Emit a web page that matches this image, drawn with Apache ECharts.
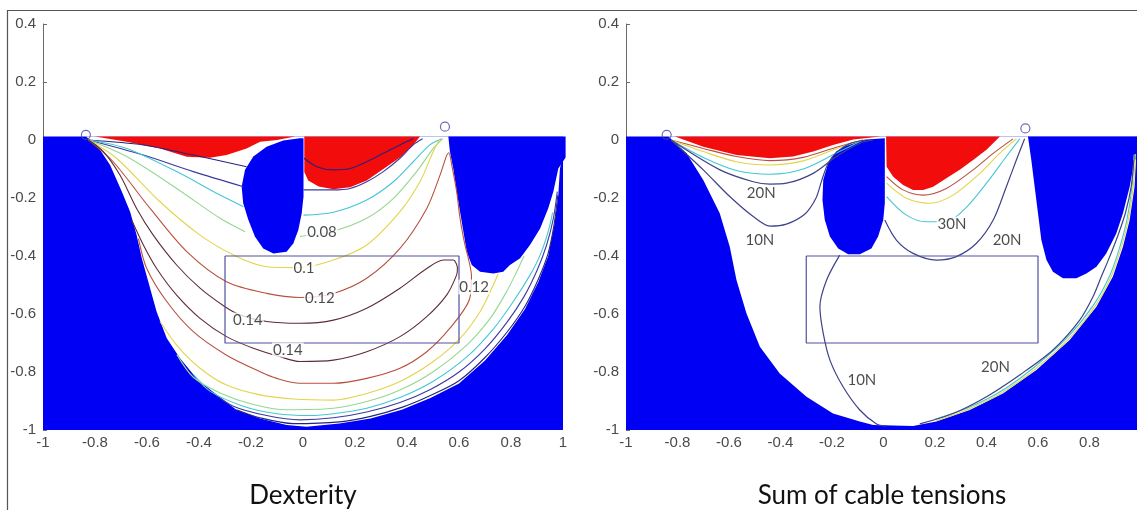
<!DOCTYPE html>
<html>
<head>
<meta charset="utf-8">
<script src="https://cdn.jsdelivr.net/npm/echarts@6/dist/echarts.min.js"></script>
<style>
html,body{margin:0;padding:0;background:#fff}
#main{width:1137px;height:510px}
</style>
</head>
<body>
<div id="main"></div>
<script>
// ---- shared ----
var plotFrame = [[-1,0.012],[1,0.012],[1,-1],[-1,-1]];
var targetBox = [[-0.3,-0.4],[0.6,-0.4],[0.6,-0.7],[-0.3,-0.7],[-0.3,-0.4]];

// ---- Dexterity (left) ----
var dexWorkspace = [[-0.835,0.012],[1.0,0.012],[1.0,-0.05],[0.988,-0.1],[0.982,-0.19],[0.966,-0.296],[0.943,-0.4],[0.905,-0.49],[0.854,-0.583],[0.785,-0.672],[0.7,-0.76],[0.6,-0.84],[0.49,-0.89],[0.38,-0.93],[0.26,-0.96],[0.14,-0.978],[0.014,-0.989],[-0.063,-0.983],[-0.165,-0.96],[-0.255,-0.931],[-0.332,-0.879],[-0.409,-0.822],[-0.473,-0.753],[-0.524,-0.684],[-0.563,-0.592],[-0.595,-0.489],[-0.62,-0.408],[-0.64,-0.328],[-0.665,-0.247],[-0.697,-0.178],[-0.742,-0.086],[-0.793,-0.017]];
var dexBlobRight = [[0.559,0.012],[1.01,0.012],[1.01,-0.06],[0.982,-0.098],[0.963,-0.178],[0.943,-0.236],[0.912,-0.305],[0.873,-0.362],[0.835,-0.408],[0.796,-0.431],[0.77,-0.454],[0.732,-0.46],[0.681,-0.454],[0.649,-0.431],[0.63,-0.385],[0.617,-0.316],[0.604,-0.247],[0.591,-0.178],[0.578,-0.098],[0.565,-0.04]];
var dexBlobMid = [[-0.012,0.006],[0.002,0.006],[0.002,-0.195],[-0.005,-0.253],[-0.018,-0.31],[-0.037,-0.356],[-0.063,-0.385],[-0.114,-0.391],[-0.153,-0.374],[-0.185,-0.333],[-0.21,-0.276],[-0.23,-0.218],[-0.236,-0.161],[-0.223,-0.103],[-0.191,-0.057],[-0.14,-0.023],[-0.076,-0.002]];
var dexRedLeft = [[-0.8,0.012],[-0.03,0.012],[-0.1,0],[-0.165,-0.006],[-0.217,-0.029],[-0.294,-0.052],[-0.358,-0.061],[-0.447,-0.058],[-0.55,-0.029],[-0.678,-0.006]];
var dexRedRight = [[0.005,0.012],[0.45,0.012],[0.424,-0.017],[0.373,-0.06],[0.309,-0.1],[0.245,-0.14],[0.181,-0.163],[0.117,-0.17],[0.06,-0.16],[0.02,-0.14],[0.005,-0.11]];

var dexLev002a = [[-0.825,0],[-0.614,-0.017],[-0.422,-0.052],[-0.217,-0.092]];
var dexLev002b = [[0.004,-0.063],[0.053,-0.092],[0.117,-0.103],[0.181,-0.098],[0.245,-0.075],[0.309,-0.046],[0.373,-0.017],[0.424,0.004]];
var dexLev002c = [[-0.256,-0.93],[-0.165,-0.958],[-0.037,-0.978],[0.14,-0.972],[0.26,-0.953],[0.38,-0.922],[0.49,-0.881],[0.6,-0.83],[0.7,-0.75],[0.785,-0.662],[0.854,-0.573],[0.905,-0.48],[0.943,-0.39],[0.966,-0.29],[0.98,-0.19]];
var dexLev004a = [[-0.825,0],[-0.614,-0.052],[-0.422,-0.109],[-0.229,-0.161]];
var dexLev004b = [[0.002,-0.172],[0.117,-0.172],[0.181,-0.167],[0.245,-0.144],[0.309,-0.109],[0.373,-0.063],[0.424,-0.017],[0.46,0.004]];
var dexLev004c = [[-0.35,-0.868],[-0.268,-0.918],[-0.14,-0.95],[-0.011,-0.965],[0.117,-0.958],[0.245,-0.938],[0.373,-0.905],[0.49,-0.86],[0.6,-0.8],[0.7,-0.72],[0.785,-0.628],[0.85,-0.54],[0.9,-0.45],[0.937,-0.362],[0.963,-0.27],[0.978,-0.178]];
var dexLev006a = [[-0.825,0],[-0.678,-0.029],[-0.486,-0.109],[-0.319,-0.19],[-0.229,-0.23]];
var dexLev006b = [[0.002,-0.259],[0.117,-0.249],[0.245,-0.207],[0.348,-0.144],[0.424,-0.075],[0.488,-0.017],[0.535,0.004]];
var dexLev006c = [[-0.42,-0.81],[-0.358,-0.866],[-0.23,-0.918],[-0.101,-0.944],[0.027,-0.95],[0.117,-0.944],[0.245,-0.925],[0.373,-0.888],[0.501,-0.832],[0.63,-0.748],[0.732,-0.652],[0.809,-0.557],[0.873,-0.466],[0.912,-0.397],[0.943,-0.316],[0.96,-0.25]];
var dexLev008a = [[-0.825,0],[-0.678,-0.057],[-0.486,-0.167],[-0.319,-0.27],[-0.223,-0.316]];
var dexLev008b = [[-0.012,-0.333],[0.117,-0.314],[0.245,-0.27],[0.348,-0.201],[0.437,-0.109],[0.501,-0.029],[0.537,0.004]];
var dexLev008c = [[-0.485,-0.74],[-0.422,-0.818],[-0.319,-0.872],[-0.191,-0.912],[-0.063,-0.93],[0.117,-0.925],[0.245,-0.902],[0.373,-0.862],[0.501,-0.799],[0.63,-0.707],[0.72,-0.615],[0.783,-0.523],[0.822,-0.454],[0.85,-0.4]];
var dexLev010a = [[-0.825,0],[-0.717,-0.063],[-0.55,-0.213],[-0.396,-0.328],[-0.255,-0.402],[-0.14,-0.437],[-0.012,-0.44],[0.117,-0.414],[0.245,-0.362],[0.373,-0.247],[0.45,-0.144],[0.501,-0.04],[0.527,0.004]];
var dexLev010b = [[-0.55,-0.626],[-0.486,-0.707],[-0.396,-0.787],[-0.294,-0.845],[-0.165,-0.879],[-0.037,-0.893],[0.117,-0.897],[0.245,-0.874],[0.373,-0.833],[0.501,-0.764],[0.604,-0.684],[0.681,-0.592],[0.732,-0.5],[0.75,-0.462]];
var dexLev012 = [[-0.825,0],[-0.73,-0.075],[-0.588,-0.236],[-0.447,-0.385],[-0.294,-0.489],[-0.14,-0.529],[-0.012,-0.543],[0.117,-0.529],[0.245,-0.477],[0.373,-0.374],[0.476,-0.236],[0.527,-0.121],[0.553,-0.052],[0.561,-0.044],[0.572,-0.086],[0.591,-0.178],[0.604,-0.27],[0.623,-0.362],[0.636,-0.408],[0.648,-0.47],[0.64,-0.55],[0.565,-0.649],[0.476,-0.73],[0.373,-0.787],[0.245,-0.822],[0.117,-0.839],[-0.012,-0.839],[-0.101,-0.822],[-0.165,-0.799],[-0.294,-0.742],[-0.422,-0.661],[-0.524,-0.557],[-0.601,-0.443],[-0.633,-0.34]];
var dexLev014 = [[-0.825,0],[-0.768,-0.04],[-0.704,-0.121],[-0.64,-0.236],[-0.576,-0.328],[-0.486,-0.431],[-0.396,-0.511],[-0.3,-0.575],[-0.242,-0.603],[-0.14,-0.626],[-0.012,-0.632],[0.117,-0.621],[0.245,-0.58],[0.373,-0.511],[0.476,-0.443],[0.54,-0.414],[0.578,-0.414],[0.594,-0.442],[0.591,-0.465],[0.553,-0.534],[0.476,-0.609],[0.373,-0.678],[0.245,-0.73],[0.117,-0.759],[-0.012,-0.764],[-0.089,-0.747],[-0.191,-0.718],[-0.294,-0.678],[-0.396,-0.615],[-0.486,-0.535],[-0.563,-0.443],[-0.614,-0.362],[-0.659,-0.276]];
var dexLabels = [['0.08',0.073,-0.317],['0.1',0.004,-0.441],['0.12',0.065,-0.545],['0.14',-0.212,-0.621],['0.14',-0.058,-0.724],['0.12',0.658,-0.507]];
var dexPulleys = [[-0.835,0.018],[0.546,0.046]];

// ---- Sum of cable tensions (right) ----
var tenWorkspace = [[-0.835,0.012],[1.02,0.012],[1.02,-0.02],[0.982,-0.046],[0.975,-0.161],[0.956,-0.276],[0.93,-0.368],[0.891,-0.471],[0.827,-0.575],[0.723,-0.69],[0.594,-0.793],[0.464,-0.874],[0.335,-0.931],[0.205,-0.971],[0.115,-0.986],[-0.04,-0.983],[-0.092,-0.971],[-0.196,-0.943],[-0.299,-0.885],[-0.403,-0.805],[-0.48,-0.713],[-0.532,-0.598],[-0.571,-0.483],[-0.597,-0.368],[-0.636,-0.253],[-0.7,-0.138],[-0.765,-0.046]];
var tenBlobRight = [[0.561,0.012],[1.02,0.012],[1.02,-0.05],[0.975,-0.069],[0.956,-0.161],[0.93,-0.253],[0.904,-0.322],[0.865,-0.391],[0.827,-0.437],[0.788,-0.46],[0.749,-0.477],[0.697,-0.477],[0.658,-0.454],[0.633,-0.414],[0.613,-0.345],[0.6,-0.253],[0.587,-0.161],[0.574,-0.069]];
var tenBlobMid = [[0.005,0.006],[0.005,-0.218],[-0.001,-0.276],[-0.021,-0.333],[-0.047,-0.374],[-0.092,-0.394],[-0.137,-0.394],[-0.176,-0.374],[-0.208,-0.333],[-0.228,-0.276],[-0.237,-0.207],[-0.234,-0.138],[-0.215,-0.08],[-0.183,-0.04],[-0.131,-0.011],[-0.066,0.002]];
var tenRedLeft = [[-0.81,0.012],[-0.01,0.012],[-0.118,0.002],[-0.196,-0.017],[-0.273,-0.04],[-0.351,-0.057],[-0.441,-0.063],[-0.571,-0.052],[-0.7,-0.023]];
var tenRedRight = [[0.01,0.012],[0.452,0.012],[0.4,-0.034],[0.348,-0.069],[0.296,-0.103],[0.244,-0.132],[0.193,-0.161],[0.154,-0.172],[0.115,-0.172],[0.076,-0.155],[0.037,-0.126],[0.012,-0.092]];

var tenBrownL = [[-0.825,0],[-0.7,-0.029],[-0.571,-0.057],[-0.441,-0.071],[-0.312,-0.06],[-0.183,-0.025],[-0.08,0]];
var tenYellowL = [[-0.825,0],[-0.7,-0.04],[-0.571,-0.075],[-0.441,-0.086],[-0.312,-0.072],[-0.183,-0.03],[-0.08,0]];
var tenCyanL = [[-0.825,0],[-0.7,-0.06],[-0.571,-0.105],[-0.441,-0.118],[-0.312,-0.1],[-0.183,-0.045],[-0.08,0]];
var ten20L = [[-0.825,0],[-0.635,-0.103],[-0.506,-0.144],[-0.441,-0.152],[-0.377,-0.149],[-0.273,-0.115],[-0.183,-0.057],[-0.092,-0.011],[-0.04,0]];
var ten10L = [[-0.825,0],[-0.7,-0.103],[-0.597,-0.195],[-0.506,-0.264],[-0.441,-0.297],[-0.377,-0.29],[-0.305,-0.255],[-0.262,-0.2],[-0.24,-0.14],[-0.215,-0.08],[-0.18,-0.04],[-0.13,-0.012],[-0.066,0]];
var tenBrownR = [[0.012,-0.126],[0.076,-0.172],[0.154,-0.19],[0.244,-0.167],[0.348,-0.103],[0.426,-0.046],[0.503,0.004]];
var tenYellowR = [[0.012,-0.149],[0.089,-0.201],[0.18,-0.218],[0.27,-0.19],[0.374,-0.115],[0.451,-0.046],[0.516,0.004]];
var tenCyanR = [[0.012,-0.195],[0.089,-0.259],[0.167,-0.282],[0.244,-0.282],[0.322,-0.232],[0.4,-0.149],[0.477,-0.057],[0.529,0.004]];
var ten20R = [[0.005,-0.276],[0.05,-0.345],[0.115,-0.391],[0.206,-0.414],[0.283,-0.402],[0.361,-0.356],[0.426,-0.276],[0.477,-0.161],[0.516,-0.069],[0.548,0.004]];
var ten10Low = [[-0.17,-0.397],[-0.221,-0.483],[-0.247,-0.575],[-0.234,-0.667],[-0.208,-0.759],[-0.157,-0.851],[-0.092,-0.931],[-0.027,-0.979],[0.011,-0.986]];
var ten20Arc = [[0.141,-0.979],[0.27,-0.943],[0.4,-0.885],[0.529,-0.81],[0.658,-0.724],[0.762,-0.621],[0.814,-0.54],[0.846,-0.471],[0.875,-0.41],[0.91,-0.33],[0.94,-0.25],[0.962,-0.16],[0.972,-0.07]];
var tenCyanArc = [[0.2,-0.963],[0.335,-0.921],[0.464,-0.862],[0.59,-0.78],[0.717,-0.678],[0.818,-0.566],[0.881,-0.463],[0.92,-0.362],[0.946,-0.272],[0.965,-0.16],[0.973,-0.05]];
var tenYellowArc = [[0.205,-0.968],[0.335,-0.927],[0.464,-0.869],[0.592,-0.788],[0.72,-0.685],[0.823,-0.571],[0.886,-0.467],[0.925,-0.365],[0.951,-0.274],[0.97,-0.16],[0.978,-0.048]];
var tenLabels = [['20N',-0.475,-0.184],['10N',-0.48,-0.345],['30N',0.266,-0.29],['20N',0.48,-0.345],['10N',-0.084,-0.828],['20N',0.435,-0.783]];
var tenPulleys = [[-0.842,0.018],[0.551,0.04]];

var BLUE = '#0000f4', RED = '#f20c0c';
var C = {navy:'#24247e', blue:'#3a3aa0', cyan:'#45c6d6', green:'#94d890', yellow:'#e2d54a',
         orange:'#b9503e', maroon:'#5e2c38', grey:'#3e4288'};

function area(g, pts, color, z) {
  return {type:'custom', xAxisIndex:g, yAxisIndex:g, z:z, silent:true, data:[[0,0]],
    renderItem:function(params, api){
      return {type:'polygon', shape:{points:pts.map(function(p){return api.coord(p);})},
              style:{fill:color}};
    }};
}
function curve(g, pts, color, w, z) {
  return {type:'line', xAxisIndex:g, yAxisIndex:g, z:z || 4, silent:true, data:pts,
    symbol:'none', smooth:0.3, lineStyle:{color:color, width:w || 1.1}};
}
function labels(g, list) {
  return {type:'scatter', xAxisIndex:g, yAxisIndex:g, z:8, silent:true, symbolSize:1,
    itemStyle:{color:'rgba(0,0,0,0)'},
    data:list.map(function(d){return {name:d[0], value:[d[1],d[2]]};}),
    label:{show:true, position:'inside', formatter:'{b}', fontFamily:'Lato', fontSize:15,
           color:'#1e1e1e', backgroundColor:'#fff', padding:[0,1]}};
}
function pulleys(g, pts) {
  return {type:'scatter', xAxisIndex:g, yAxisIndex:g, z:9, silent:true, data:pts,
    symbol:'circle', symbolSize:9,
    itemStyle:{color:'rgba(0,0,0,0)', borderColor:'#4848a0', borderWidth:1.2}};
}

var series = [
  area(0, plotFrame, BLUE, 1), area(0, dexWorkspace, '#fff', 2),
  area(0, dexRedLeft, RED, 3), area(0, dexRedRight, RED, 3),
  area(0, dexBlobRight, BLUE, 3), area(0, dexBlobMid, BLUE, 3),
  curve(0, dexLev002a, C.navy), curve(0, dexLev002b, C.navy), curve(0, dexLev002c, C.navy),
  curve(0, dexLev004a, C.blue), curve(0, dexLev004b, C.blue), curve(0, dexLev004c, C.blue),
  curve(0, dexLev006a, C.cyan), curve(0, dexLev006b, C.cyan), curve(0, dexLev006c, C.cyan),
  curve(0, dexLev008a, C.green), curve(0, dexLev008b, C.green), curve(0, dexLev008c, C.green),
  curve(0, dexLev010a, C.yellow), curve(0, dexLev010b, C.yellow),
  curve(0, dexLev012, C.orange), curve(0, dexLev014, C.maroon),
  curve(0, targetBox, '#5050a0', 1.2, 6),
  labels(0, dexLabels), pulleys(0, dexPulleys),

  area(1, plotFrame, BLUE, 1), area(1, tenWorkspace, '#fff', 2),
  area(1, tenRedLeft, RED, 3), area(1, tenRedRight, RED, 3),
  area(1, tenBlobRight, BLUE, 3), area(1, tenBlobMid, BLUE, 3),
  curve(1, tenBrownL, C.orange), curve(1, tenYellowL, C.yellow), curve(1, tenCyanL, C.cyan),
  curve(1, ten20L, C.grey, 1.2), curve(1, ten10L, C.grey, 1.2),
  curve(1, tenBrownR, C.orange), curve(1, tenYellowR, C.yellow), curve(1, tenCyanR, C.cyan),
  curve(1, ten20R, C.grey, 1.2), curve(1, ten10Low, C.grey, 1.2),
  curve(1, tenCyanArc, C.cyan), curve(1, tenYellowArc, C.yellow), curve(1, ten20Arc, C.grey, 1.2),
  curve(1, targetBox, '#5050a0', 1.2, 6),
  labels(1, tenLabels), pulleys(1, tenPulleys)
];

function tick(v){ return String(+v.toFixed(1)); }
var axisText = {color:'#4a4a4a', fontFamily:'Liberation Sans', fontSize:15, formatter:tick};
function xAx(g){
  return {gridIndex:g, type:'value', min:-1, max:1, interval:0.2,
    axisLine:{show:false, onZero:false}, axisTick:{show:false}, splitLine:{show:false},
    axisLabel:Object.assign({margin:5}, axisText)};
}
function yAx(g){
  return {gridIndex:g, type:'value', min:-1, max:0.4, interval:0.2,
    axisLine:{show:true, onZero:false, lineStyle:{color:'#6a6a6a', width:1}},
    axisTick:{show:true, inside:true, length:4, lineStyle:{color:'#6a6a6a'}},
    splitLine:{show:false}, axisLabel:Object.assign({margin:7}, axisText)};
}

var chart = echarts.init(document.getElementById('main'));
chart.setOption({
  animation:false,
  backgroundColor:'#fff',
  grid:[{left:43, top:24, width:520, height:406, outerBoundsMode:'none', containLabel:false},
        {left:626, top:24, width:515, height:406, outerBoundsMode:'none', containLabel:false}],
  xAxis:[xAx(0), xAx(1)],
  yAxis:[yAx(0), yAx(1)],
  series:series,
  graphic:[
    {type:'rect', shape:{x:7.5, y:10.5, width:1300, height:700}, z:100,
     style:{fill:'none', stroke:'#555', lineWidth:1.2}},
    {type:'text', x:303, y:496, z:100,
     style:{text:'Dexterity', font:'26px Lato', fill:'#111', align:'center', verticalAlign:'middle'}},
    {type:'text', x:882, y:496, z:100,
     style:{text:'Sum of cable tensions', font:'26px Lato', fill:'#111', align:'center', verticalAlign:'middle'}}
  ]
});
</script>
</body>
</html>
